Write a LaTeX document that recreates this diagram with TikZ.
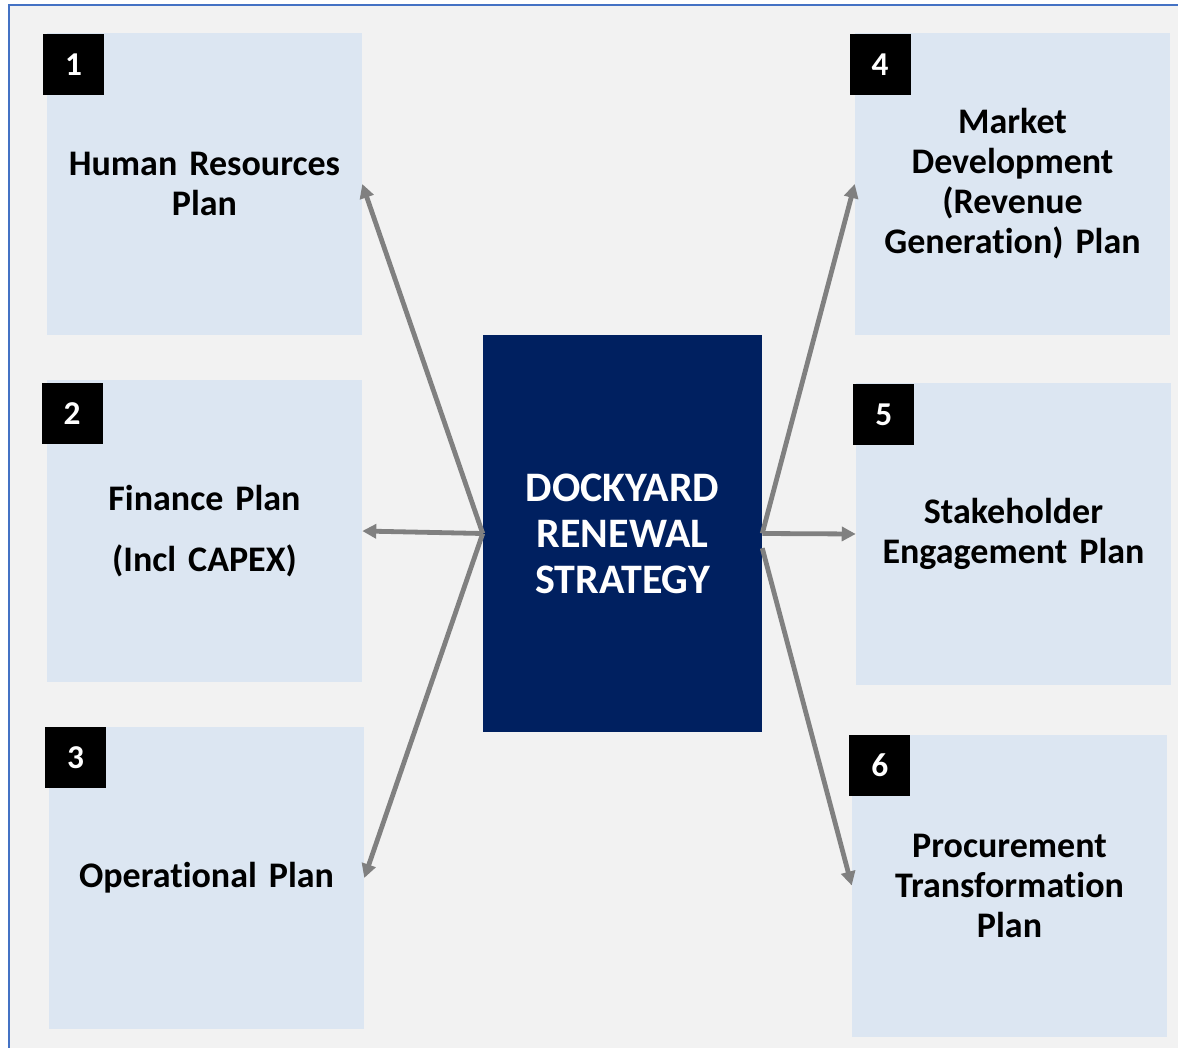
\documentclass[tikz,border=0pt]{standalone}
\usepackage{fontspec}
\setmainfont{Carlito}[Ligatures=CommonOff]
\usepackage{xcolor}
\usepackage{tikz}
\usetikzlibrary{arrows.meta,positioning}

\definecolor{panelbg}{RGB}{242,242,242}
\definecolor{framebl}{RGB}{68,114,196}
\definecolor{planfill}{RGB}{220,230,242}
\definecolor{hubnavy}{RGB}{0,32,96}
\definecolor{linkgray}{RGB}{128,128,128}

\begin{document}
\begin{tikzpicture}[
  x=0.75pt, y=-0.75pt,
  plan/.style={rectangle, fill=planfill, minimum width=236.25pt, minimum height=226.5pt, text width=230pt, align=center, inner sep=0pt, font=\bfseries\fontsize{27}{30}\selectfont},
  numbox/.style={rectangle, fill=black, text=white, minimum size=45.75pt, inner sep=0pt, anchor=north west, font=\bfseries\fontsize{25}{28}\selectfont},
  hubbox/.style={rectangle, fill=hubnavy, text=white, minimum width=209.25pt, minimum height=297.75pt, align=center, inner sep=0pt, font=\bfseries\fontsize{31.5}{34.5}\selectfont},
  arrow/.style={-{Triangle[length=10.5pt,width=10.5pt]}, line width=3.6pt, draw=linkgray}
]
% page and outer frame
\useasboundingbox (0,0) rectangle (1178,1048);
\fill[white] (0,0) rectangle (1178,1048);
\filldraw[fill=panelbg, draw=framebl, line width=1.5pt] (9,5) rectangle (1200,1070);

% the six plans
\node[plan] (p1) at (204.5,184) {Human Resources\\Plan};
\node[plan] (p2) at (204.5,531) {Finance Plan\\[16pt](Incl CAPEX)};
\node[plan] (p3) at (206.5,878) {Operational Plan};
\node[plan] (p4) at (1012.5,184) {Market\\Development\\(Revenue\\Generation) Plan};
\node[plan] (p5) at (1013.5,534) {Stakeholder\\Engagement Plan};
\node[plan] (p6) at (1009.5,885.5) {Procurement\\Transformation\\Plan};

% numbers
\node[numbox, xshift=-3pt, yshift=-1pt] (n1) at (p1.north west) {1};
\node[numbox, xshift=-4pt, yshift=-2pt] (n2) at (p2.north west) {2};
\node[numbox, xshift=-3pt] (n3) at (p3.north west) {3};
\node[numbox, xshift=-4pt, yshift=-1pt] (n4) at (p4.north west) {4};
\node[numbox, xshift=-2pt, yshift=-1pt] (n5) at (p5.north west) {5};
\node[numbox, xshift=-2pt] (n6) at (p6.north west) {6};

% strategy in the middle
\node[hubbox] (hub) at (622.5,533.5) {DOCKYARD\\RENEWAL\\STRATEGY};

\draw[arrow] (hub.west) -- (p1.east);
\draw[arrow] (hub.west) -- (p2.east);
\draw[arrow] (hub.west) -- (p3.east);
\draw[arrow] (hub.east) -- (p4.west);
\draw[arrow] (hub.east) -- (p5.west);
\draw[arrow] ([yshift=-11pt]hub.east) -- (p6.west);
\end{tikzpicture}
\end{document}
